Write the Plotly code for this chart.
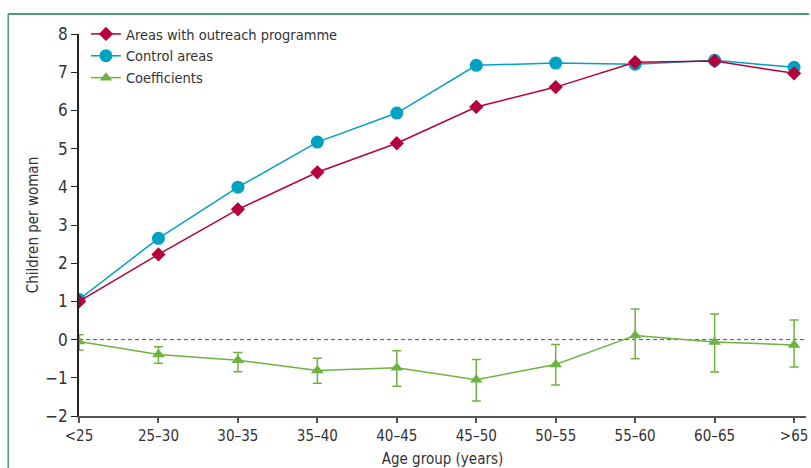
import plotly.graph_objects as go

# Age groups along the x axis
age_groups = ["<25", "25–30", "30–35", "35–40", "40–45", "45–50",
              "50–55", "55–60", "60–65", ">65"]

# Children per woman by area type
outreach = [1.00, 2.23, 3.41, 4.38, 5.14, 6.09, 6.61, 7.26, 7.29, 6.97]
control = [1.05, 2.65, 3.99, 5.17, 5.93, 7.18, 7.24, 7.21, 7.31, 7.13]

# Regression coefficients with confidence limits
coef = [-0.05, -0.39, -0.54, -0.81, -0.74, -1.05, -0.65, 0.11, -0.06, -0.14]
coef_hi = [0.13, -0.19, -0.34, -0.49, -0.29, -0.52, -0.13, 0.80, 0.67, 0.51]
coef_lo = [-0.27, -0.62, -0.84, -1.14, -1.22, -1.61, -1.19, -0.50, -0.85, -0.72]

RED = "#b5003c"
BLUE = "#00a2c4"
GREEN = "#6db33f"
FONT = "DejaVu Sans Condensed, Roboto, sans-serif"

x_idx = list(range(len(age_groups)))

fig = go.Figure()

# control drawn first so the outreach series sits on top
fig.add_trace(go.Scatter(
    x=x_idx, y=control, name="Control areas", mode="lines+markers",
    legendrank=2,
    line=dict(color=BLUE, width=1.5),
    marker=dict(symbol="circle", size=13, color=BLUE),
))
fig.add_trace(go.Scatter(
    x=x_idx, y=outreach, name="Areas with outreach programme", mode="lines+markers",
    legendrank=1,
    line=dict(color=RED, width=1.5),
    marker=dict(symbol="diamond", size=11, color=RED),
))
fig.add_trace(go.Scatter(
    x=x_idx, y=coef, name="Coefficients", mode="lines+markers",
    legendrank=3,
    line=dict(color=GREEN, width=1.5),
    marker=dict(symbol="triangle-up", size=11, color=GREEN),
    error_y=dict(type="data", symmetric=False,
                 array=[h - c for h, c in zip(coef_hi, coef)],
                 arrayminus=[c - l for c, l in zip(coef, coef_lo)],
                 color=GREEN, thickness=1.5, width=4.5),
))

L, R, T, B = 79, 3, 34, 52
W, H = 811, 468
pw, ph = W - L - R, H - T - B

def px_x(p):
    return (p - L) / pw

def px_y(p):
    return 1 - (p - T) / ph

shapes = [
    # dashed reference line at zero
    dict(type="line", xref="paper", yref="y", x0=0, x1=1, y0=0, y1=0,
         line=dict(color="#3e5b70", width=1, dash="4px,3px"), layer="below"),
    # outer frame
    dict(type="line", xref="paper", yref="paper",
         x0=px_x(8), x1=px_x(811), y0=px_y(14), y1=px_y(14),
         line=dict(color="#0f7a4c", width=1.5)),
    dict(type="line", xref="paper", yref="paper",
         x0=px_x(8), x1=px_x(8), y0=px_y(14), y1=px_y(470),
         line=dict(color="#3da070", width=1.5)),
]

fig.update_layout(
    width=W, height=H,
    margin=dict(l=L, r=R, t=T, b=B),
    paper_bgcolor="white", plot_bgcolor="white",
    font=dict(family=FONT, size=15, color="#333333"),
    showlegend=True,
    legend=dict(x=px_x(86), y=px_y(18), xanchor="left", yanchor="top",
                bgcolor="rgba(0,0,0,0)", font=dict(size=14.5, color="#333333"),
                traceorder="normal", itemwidth=30, tracegroupgap=0),
    shapes=shapes,
)

fig.update_xaxes(
    range=[0, 9.15], tickmode="array", tickvals=x_idx, ticktext=age_groups,
    showgrid=False, zeroline=False, showline=True, linecolor="#555555",
    linewidth=2, ticks="outside", ticklen=5, tickcolor="#555555", tickwidth=1.5,
    tickfont=dict(size=15), title=dict(text="Age group (years)", font=dict(size=15), standoff=9),
)
fig.update_yaxes(
    range=[-2, 8], dtick=1, showgrid=False, zeroline=False, showline=True,
    linecolor="#222222", linewidth=1.5, ticks="outside", ticklen=6,
    tickcolor="#222222", tickwidth=1.2, tickfont=dict(size=17),
    title=dict(text="Children per woman", font=dict(size=15), standoff=3),
)

fig.write_html("out.html")
